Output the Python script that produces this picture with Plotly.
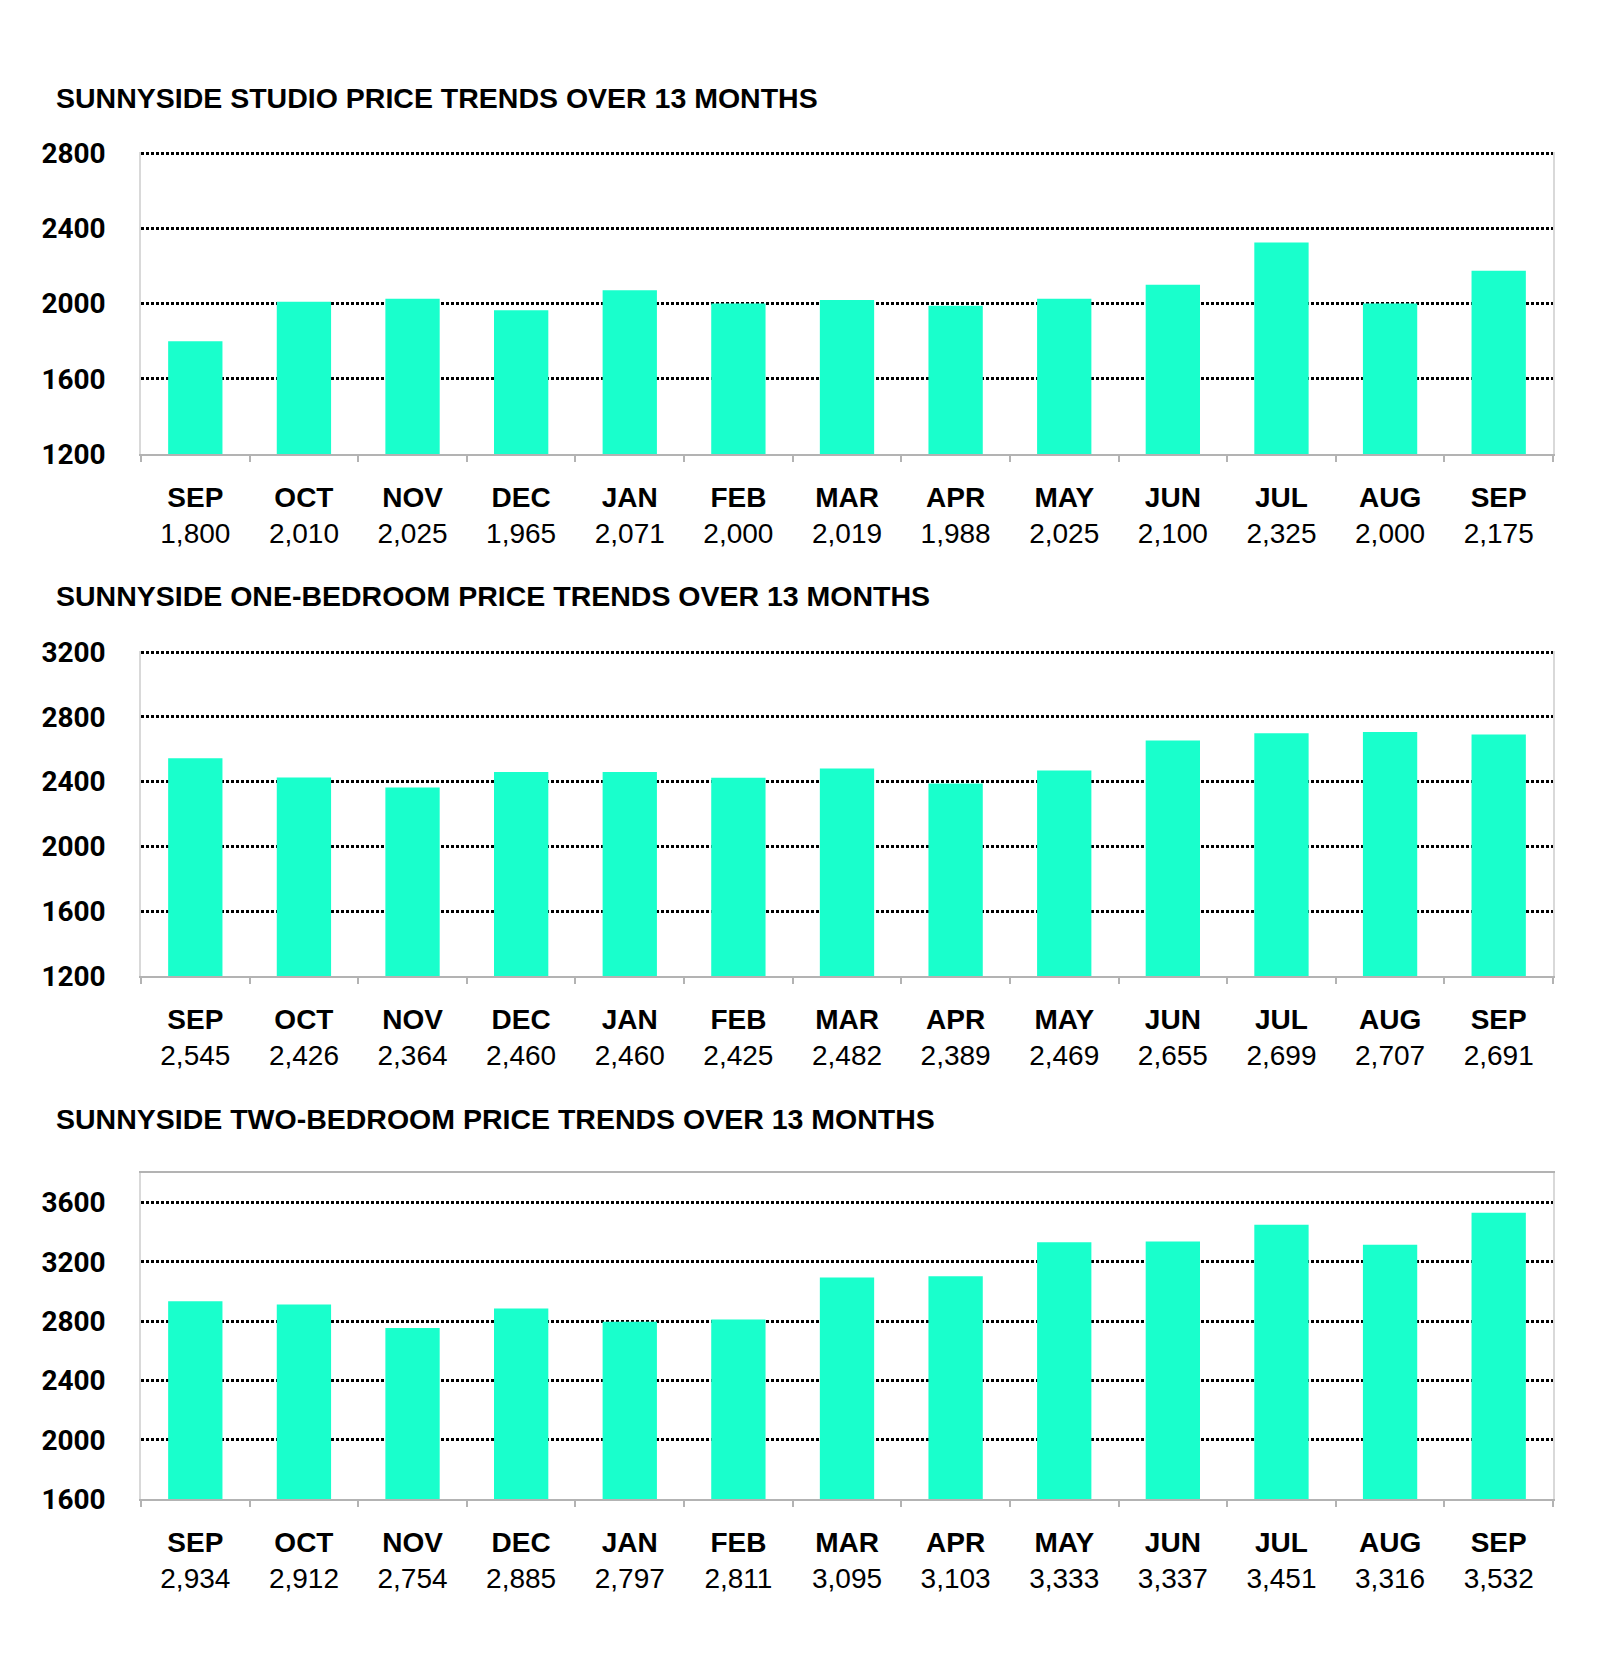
import plotly.graph_objects as go

months = ["SEP", "OCT", "NOV", "DEC", "JAN", "FEB", "MAR", "APR", "MAY", "JUN", "JUL", "AUG", "SEP"]

studio = [1800, 2010, 2025, 1965, 2071, 2000, 2019, 1988, 2025, 2100, 2325, 2000, 2175]
one_bed = [2545, 2426, 2364, 2460, 2460, 2425, 2482, 2389, 2469, 2655, 2699, 2707, 2691]
two_bed = [2934, 2912, 2754, 2885, 2797, 2811, 3095, 3103, 3333, 3337, 3451, 3316, 3532]

titles = [
    "SUNNYSIDE STUDIO PRICE TRENDS OVER 13 MONTHS",
    "SUNNYSIDE ONE-BEDROOM PRICE TRENDS OVER 13 MONTHS",
    "SUNNYSIDE TWO-BEDROOM PRICE TRENDS OVER 13 MONTHS",
]
# top of panels 1 and 2 sits a hair above the last gridline so it still gets drawn
y_ranges = [(1200, 2806), (1200, 3207), (1600, 3800)]
y_ticks = [
    [1200, 1600, 2000, 2400, 2800],
    [1200, 1600, 2000, 2400, 2800, 3200],
    [1600, 2000, 2400, 2800, 3200, 3600],
]

W, H = 1600, 1667
BAR = "#19FFCC"
OFF = 8  # page body margin

# pixel layout of each panel (top, bottom, title y)
panels = [(152, 454, 98), (651, 976, 596), (1173, 1499, 1119)]
x0, x1 = 141 - OFF, 1553 - OFF

fig = go.Figure()
layout = dict(
    width=W, height=H, autosize=False,
    margin=dict(l=0, r=0, t=0, b=0, autoexpand=False),
    plot_bgcolor="white", paper_bgcolor="white",
    showlegend=False, bargap=0.5,
    annotations=[],
)

for i, (vals, title) in enumerate(zip([studio, one_bed, two_bed], titles)):
    n = "" if i == 0 else str(i + 1)
    labels = [f"<b>{m}</b><br>{v:,}" for m, v in zip(months, vals)]
    fig.add_trace(go.Bar(
        x=labels, y=vals, marker=dict(color=BAR, line=dict(width=0)),
        xaxis="x" + n, yaxis="y" + n, hoverinfo="skip",
    ))
    top, bot, ty = [p - OFF for p in panels[i]]
    layout["xaxis" + n] = dict(
        domain=[x0 / W, x1 / W], anchor="y" + n, type="category",
        showline=True, linecolor="#b3b3b3", linewidth=2, mirror=(i == 2),
        ticks="outside", tickson="boundaries", ticklen=6, tickwidth=2, tickcolor="#b3b3b3",
        ticklabelstandoff=17, automargin=False,
        tickfont=dict(family="Liberation Sans, Arial", size=28, color="black"),
        showgrid=False, fixedrange=True,
    )
    layout["yaxis" + n] = dict(
        domain=[1 - bot / H, 1 - top / H], anchor="x" + n,
        range=list(y_ranges[i]), tickvals=y_ticks[i],
        showline=True, linecolor="#d9d9d9", linewidth=1.5, mirror=True,
        showgrid=True, gridcolor="black", gridwidth=3, griddash="3px,2px",
        zeroline=False, ticks="", ticklabelstandoff=28, automargin=False,
        tickfont=dict(family="Roboto, Lato", size=28, color="black", weight="bold"),
        fixedrange=True,
    )
    layout["annotations"].append(dict(
        text=f"<b>{title}</b>", x=(54 - OFF) / W, y=1 - ty / H, xref="paper", yref="paper",
        xanchor="left", yanchor="middle", showarrow=False,
        font=dict(family="Liberation Sans, Arial", size=28.5, color="black"),
    ))

fig.update_layout(**layout)
fig.write_html("out.html")
